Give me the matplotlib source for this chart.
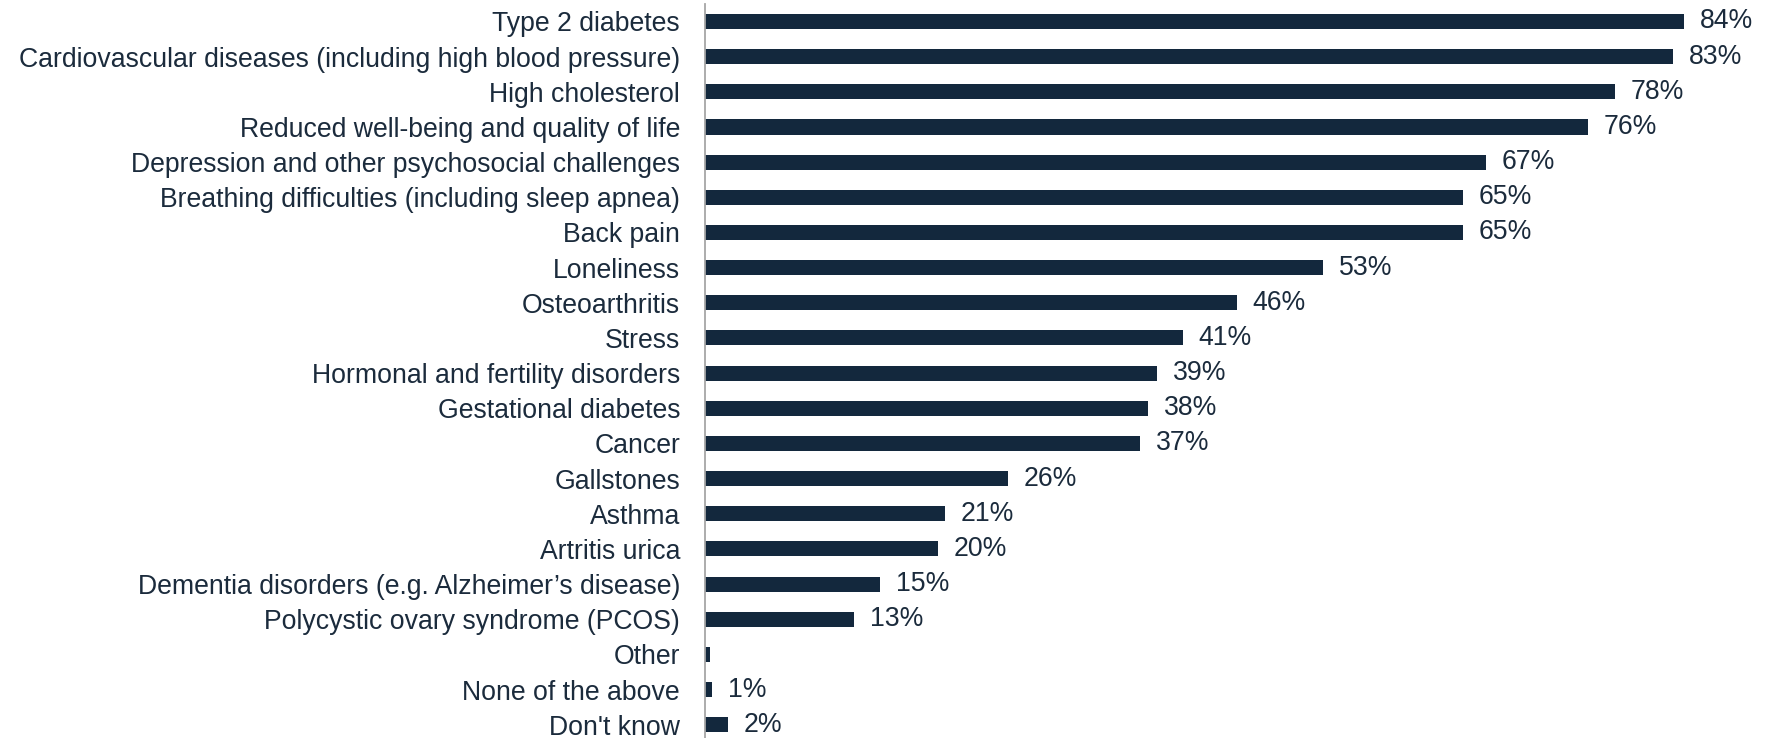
import matplotlib
matplotlib.use("Agg")
import matplotlib.pyplot as plt

categories = [
    "Type 2 diabetes",
    "Cardiovascular diseases (including high blood pressure)",
    "High cholesterol",
    "Reduced well-being and quality of life",
    "Depression and other psychosocial challenges",
    "Breathing difficulties (including sleep apnea)",
    "Back pain",
    "Loneliness",
    "Osteoarthritis",
    "Stress",
    "Hormonal and fertility disorders",
    "Gestational diabetes",
    "Cancer",
    "Gallstones",
    "Asthma",
    "Artritis urica",
    "Dementia disorders (e.g. Alzheimer\u2019s disease)",
    "Polycystic ovary syndrome (PCOS)",
    "Other",
    "None of the above",
    "Don't know",
]
values = [84, 83, 78, 75.7, 67, 65, 65, 53, 45.6, 41, 38.8, 38, 37.3, 26, 20.6, 20, 15, 12.8, 0.4, 0.6, 2]
value_labels = ["84%", "83%", "78%", "76%", "67%", "65%", "65%", "53%", "46%", "41%",
                "39%", "38%", "37%", "26%", "21%", "20%", "15%", "13%", "", "1%", "2%"]

plt.rcParams['font.family'] = ['Liberation Sans', 'DejaVu Sans']
text_color = "#1b2b3c"
bar_color = "#13283d"

fig = plt.figure(figsize=(17.76, 7.38), dpi=100)
ax = fig.add_axes([705 / 1776, -4.3 / 738, 1 - 705 / 1776, 738.4 / 738])

y = list(range(len(categories)))
ax.barh(y, values, height=0.43, color=bar_color)
ax.set_ylim(len(categories) - 0.5, -0.5)
ax.set_xlim(0, 91.85)

for yi, v, lab in zip(y, values, value_labels):
    if lab:
        ax.text(v + 1.35, yi, lab, va="center", ha="left", fontsize=19.2, color=text_color)

ax.set_yticks(y)
ax.set_yticklabels(categories, fontsize=19.2, color=text_color)
ax.tick_params(axis="y", length=0, pad=18)
ax.set_xticks([])
for s in ["top", "right", "bottom"]:
    ax.spines[s].set_visible(False)
ax.spines["left"].set_color("#a6a6a6")
ax.spines["left"].set_linewidth(1.3)

fig.savefig("out.png", dpi=100)
